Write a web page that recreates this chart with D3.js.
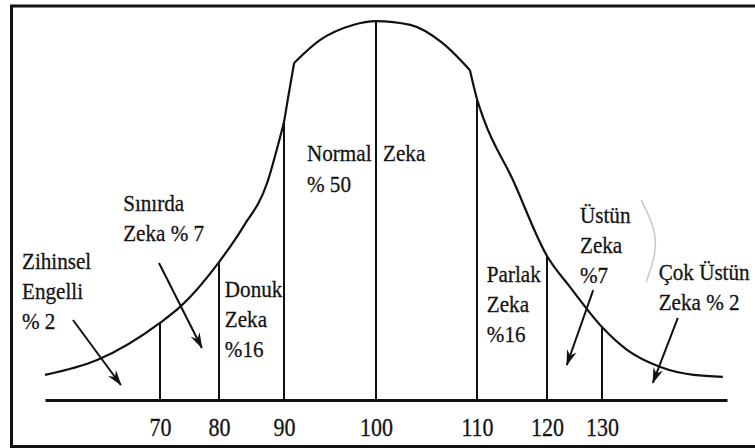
<!DOCTYPE html>
<html>
<head>
<meta charset="utf-8">
<script src="https://cdn.jsdelivr.net/npm/d3@7"></script>
<style>
  html, body { margin: 0; padding: 0; background: #fff; }
  svg { display: block; }
</style>
</head>
<body>
<svg id="chart" width="755" height="448"></svg>
<script>
// IQ values marked on the axis
const iqTicks = [70, 80, 90, 100, 110, 120, 130];

// curve as [iq, height], split at the two corners
const curveLeft = [[55, 6.6], [61.8, 10.5], [70, 20.3], [73.4, 24.5], [80, 36.3], [83.7, 45.5],
  [87.4, 57.1], [89.4, 69.2], [90, 73.2], [90.4, 78.9], [91.1, 88.7]];
const curveTop = [[91.1, 88.7], [93.9, 94.7], [97.5, 98.7], [100, 99.7], [103.4, 98.7],
  [106.6, 93.9], [109.3, 86.8]];
const curveRight = [[109.3, 86.8], [110, 79.2], [111, 73.7], [115, 58.4], [120, 37.9],
  [124.2, 29.7], [130, 19.2], [133, 13.2], [137, 8.7], [141, 6.6], [144.5, 6.1]];

// group names, one entry per text block
const groupNames = [
  ["Zihinsel", "Engelli", "% 2"],
  ["Sınırda", "Zeka % 7"],
  ["Normal", "% 50"],
  ["Zeka"],
  ["Donuk", "Zeka", "%16"],
  ["Parlak", "Zeka", "%16"],
  ["Üstün", "Zeka", "%7"],
  ["Çok Üstün", "Zeka % 2"]
];

const W = 755, H = 448;
const FONT = 'Liberation Serif';
const svg = d3.select('#chart');

// the print is a narrow Times, so squeeze each text a bit
const squeeze = sel => sel.each(function() {
  const w = this.getComputedTextLength();
  d3.select(this).attr('textLength', w * 0.88).attr('lengthAdjust', 'spacingAndGlyphs');
});

// the drawing is hand made, so the iq axis is stretched piece by piece
const x = d3.scaleLinear()
  .domain([55, 70, 80, 90, 100, 110, 120, 130, 145])
  .range([45, 160, 219, 284, 376, 477, 547, 602, 727]);
const y = d3.scaleLinear()
  .domain([0, 100])
  .range([400, 20]);

// frame (no right edge in the original)
const frame = svg.append('g').attr('stroke', '#111').attr('stroke-width', 3);
frame.append('line').attr('x1', 10).attr('x2', W).attr('y1', 6).attr('y2', 6);
frame.append('line').attr('x1', 11.5).attr('x2', 11.5).attr('y1', 5).attr('y2', 447);
frame.append('line').attr('x1', 10).attr('x2', W).attr('y1', 446.5).attr('y2', 446.5);

// curve
const line = d3.line()
  .x(d => x(d[0]))
  .y(d => y(d[1]))
  .curve(d3.curveMonotoneX);

svg.append('g')
  .selectAll('path')
  .data([curveLeft, curveTop, curveRight])
  .enter()
    .append('path')
    .attr('d', line)
    .attr('fill', 'none')
    .attr('stroke', '#111')
    .attr('stroke-width', 2.2)
    .attr('stroke-linejoin', 'round');

// vertical lines from the axis up to the curve
const allPts = curveLeft.concat(curveTop, curveRight);
const heightAt = v => allPts.find(p => p[0] === v)[1];

svg.append('g')
  .selectAll('line')
  .data(iqTicks)
  .enter()
    .append('line')
    .attr('x1', d => x(d)).attr('x2', d => x(d))
    .attr('y1', y(0)).attr('y2', d => y(heightAt(d)))
    .attr('stroke', '#111')
    .attr('stroke-width', 2);

// axis
const xAxis = g => g
  .attr('transform', `translate(0,${y(0)})`)
  .call(d3.axisBottom(x).tickValues(iqTicks).tickSize(0).tickFormat(d3.format('d')))
  .attr('font-family', FONT)
  .attr('font-size', 25)
  .call(g => g.select('.domain').attr('stroke', '#111').attr('stroke-width', 2.8))
  .call(g => g.selectAll('.tick text')
    .attr('y', 36).attr('dy', 0)
    .attr('fill', '#141414')
    .attr('stroke', '#141414')
    .attr('stroke-width', 0.3)
    .call(squeeze));

svg.append('g').call(xAxis);

// text blocks, anchored in iq / height units
const labelAt = [[52, 34.5], [65.2, 49.7], [92.5, 62.9], [100.7, 62.9],
  [80.9, 27.1], [111.4, 31.1], [126, 46.6], [136.8, 31.6]];
const lineGap = [30, 30, 31, 30, 30, 30, 30, 30];

const labels = svg.append('g')
  .attr('font-family', FONT)
  .attr('font-size', 24)
  .attr('fill', '#141414')
  .attr('stroke', '#141414')
  .attr('stroke-width', 0.3);

groupNames.forEach((lines, i) => {
  lines.forEach((t, j) => {
    labels.append('text')
      .attr('x', x(labelAt[i][0]))
      .attr('y', y(labelAt[i][1]) + j * lineGap[i])
      .text(t);
  });
});
labels.selectAll('text').call(squeeze);

// arrows
const arrows = [
  [[58.65, 21.05], [64.9, 3.95]],
  [[69.87, 36.05], [77.1, 13.7]],
  [[128.4, 28.9], [123.6, 9.2]],
  [[139.1, 21.6], [136.1, 4.5]]
];

svg.append('defs').append('marker')
  .attr('id', 'ah')
  .attr('markerUnits', 'userSpaceOnUse')
  .attr('viewBox', '-17 -7 19 14')
  .attr('refX', 0).attr('refY', 0)
  .attr('markerWidth', 19).attr('markerHeight', 14)
  .attr('orient', 'auto')
  .append('path')
    .attr('d', 'M1,0 L-15,-5 L-10,0 L-15,5 Z')
    .attr('fill', '#111');

svg.append('g')
  .selectAll('line')
  .data(arrows)
  .enter()
    .append('line')
    .attr('x1', d => x(d[0][0])).attr('y1', d => y(d[0][1]))
    .attr('x2', d => x(d[1][0])).attr('y2', d => y(d[1][1]))
    .attr('stroke', '#111')
    .attr('stroke-width', 2)
    .attr('marker-end', 'url(#ah)');

// faint bracket beside "Üstün Zeka"
const bracket = [[134.7, 52.6], [136.4, 42.1], [135.3, 31.05]];
svg.append('path')
  .attr('d', d3.line().x(d => x(d[0])).y(d => y(d[1])).curve(d3.curveNatural)(bracket))
  .attr('fill', 'none')
  .attr('stroke', '#c8c8c8')
  .attr('stroke-width', 1.5);
</script>
</body>
</html>
